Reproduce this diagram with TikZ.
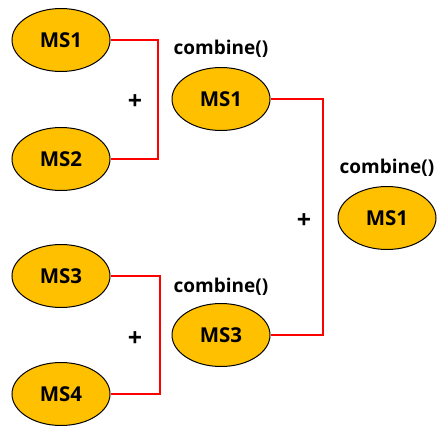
\documentclass[tikz,border=0pt]{standalone}
\usepackage{fontspec}
\setmainfont{Open Sans}
\usetikzlibrary{shapes.geometric}
\definecolor{gold}{HTML}{FFC000}
\definecolor{linkred}{HTML}{FF0000}
\tikzset{
  ms/.style={ellipse, draw=black, line width=1pt, fill=gold, minimum width=98pt, minimum height=63pt, inner sep=0pt, font=\fontsize{20.5}{24}\selectfont\bfseries},
  lbl/.style={font=\fontsize{19}{22}\selectfont\bfseries, inner sep=0pt},
  plus/.style={font=\fontsize{25}{28}\selectfont\bfseries, inner sep=0pt},
  link/.style={draw=linkred, line width=1.6pt},
}
\begin{document}
\begin{tikzpicture}[x=1pt,y=-1pt]
\useasboundingbox (0,0) rectangle (447,434);
\node[ms] (a1) at (61,40) {MS1};
\node[ms] (a2) at (61,159) {MS2};
\node[ms] (a3) at (61,276) {MS3};
\node[ms] (a4) at (61,394) {MS4};
\node[ms] (b1) at (221,99) {MS1};
\node[ms] (b3) at (221,335) {MS3};
\node[ms] (c1) at (387,218) {MS1};
\node[lbl] (l1) at (221,49) {combine()};
\node[lbl] (l2) at (221,287) {combine()};
\node[lbl] (l3) at (387,168) {combine()};
\node[plus] (p1) at (135,102) {+};
\node[plus] (p2) at (135,339) {+};
\node[plus] (p3) at (304,221) {+};
\draw[link] (a1.east) -- (158,40) |- (a2.east);
\draw[link] (a3.east) -- (160,276) |- (a4.east);
\draw[link] (b1.east) -- (323,99) |- (b3.east);
\end{tikzpicture}
\end{document}
